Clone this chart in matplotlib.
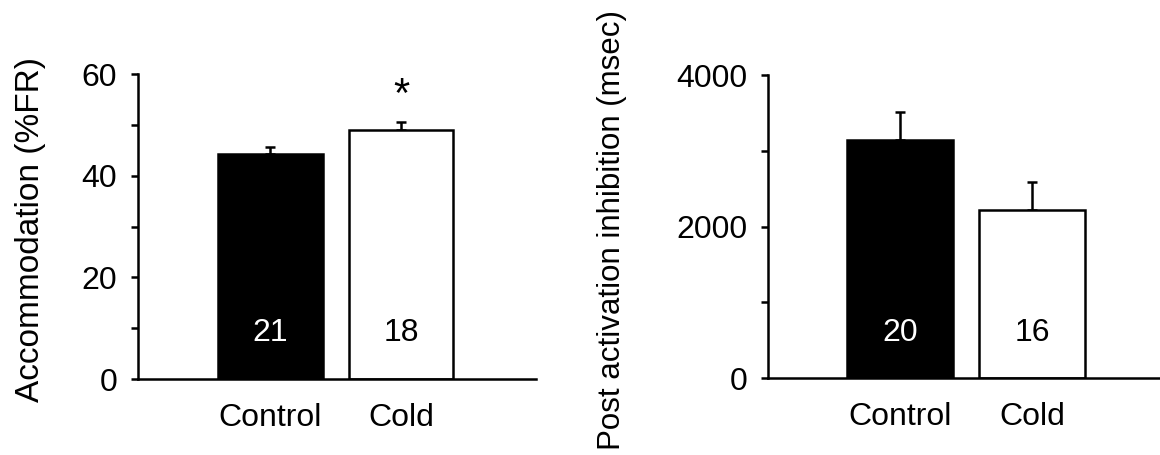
import matplotlib.pyplot as plt

plt.rcParams['font.family'] = ['Liberation Sans', 'DejaVu Sans']

# Data
groups = ['Control', 'Cold']
accom_mean = [44.3, 49.0]
accom_sem = [1.4, 1.6]
accom_n = ['21', '18']
pai_mean = [3140, 2220]
pai_sem = [370, 370]
pai_n = ['20', '16']

bar_colors = ['black', 'white']
text_colors = ['white', 'black']

fig = plt.figure(figsize=(11.6, 4.55), dpi=100)
ax1 = fig.add_axes([0.119, 0.167, 0.343, 0.670])
ax2 = fig.add_axes([0.662, 0.169, 0.338, 0.666])

lw = 1.8
fs = 23


def style(ax, ylabel, yticks, minor, ylim, xlim, label_x, label_fs):
    for s in ['top', 'right']:
        ax.spines[s].set_visible(False)
    ax.spines['left'].set_linewidth(lw)
    ax.spines['bottom'].set_linewidth(lw)
    ax.set_ylim(*ylim)
    ax.set_xlim(*xlim)
    ax.set_yticks(yticks)
    ax.set_yticks(minor, minor=True)
    ax.tick_params(axis='y', which='both', direction='out', length=5,
                   width=lw, labelsize=fs, pad=10)
    ax.tick_params(axis='x', length=0, labelsize=fs, pad=17)
    ax.set_xticks(range(len(groups)))
    ax.set_xticklabels(groups)
    ax.set_ylabel(ylabel, fontsize=label_fs)
    ax.yaxis.set_label_coords(label_x, 0.49)


def draw_bars(ax, means, sems, ns, n_y):
    x = range(len(groups))
    ax.bar(x, means, width=0.8, color=bar_colors, edgecolor='black',
           linewidth=lw, zorder=2)
    ax.errorbar(x, means, yerr=[[0] * len(sems), sems], fmt='none',
                ecolor='black', elinewidth=lw, capsize=3.5, capthick=lw,
                zorder=1)
    for i, n in enumerate(ns):
        ax.text(i, n_y, n, ha='center', va='center', fontsize=fs,
                color=text_colors[i], zorder=3)


# Left panel: accommodation
style(ax1, 'Accommodation (%FR)', [0, 20, 40, 60], [10, 30, 50],
      (0, 60), (-1.01, 2.03), -0.232, 24)
draw_bars(ax1, accom_mean, accom_sem, accom_n, 9.0)
ax1.text(1, accom_mean[1] + accom_sem[1] + 1.2, '*', ha='center',
         va='bottom', fontsize=30)

# Right panel: post activation inhibition
style(ax2, 'Post activation inhibition (msec)', [0, 2000, 4000],
      [1000, 3000], (0, 4000), (-1.0, 1.97), -0.36, 22.5)
draw_bars(ax2, pai_mean, pai_sem, pai_n, 600)

fig.savefig('out.png', dpi=100)
